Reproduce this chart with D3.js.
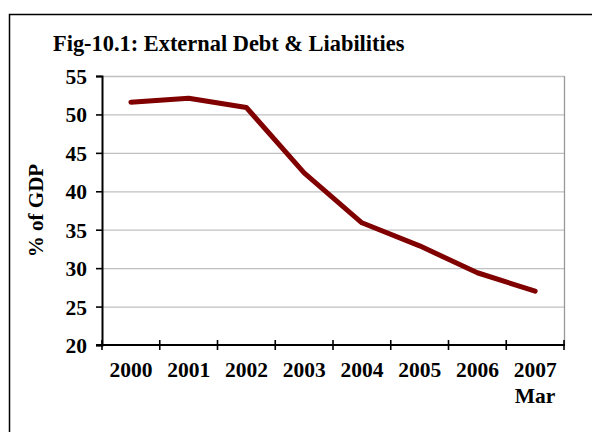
<!DOCTYPE html>
<html>
<head>
<meta charset="utf-8">
<script src="https://cdn.jsdelivr.net/npm/d3@7"></script>
<style>
  body { margin: 0; background: #fff; }
  svg text { font-family: "Liberation Serif", "Times New Roman", serif; font-weight: bold; fill: #000; }
</style>
</head>
<body>
<svg id="chart" width="592" height="432"></svg>
<script>
// data
var years = ['2000', '2001', '2002', '2003', '2004', '2005', '2006', '2007'];
var debtPct = [51.6, 52.1, 50.9, 42.4, 35.9, 32.9, 29.4, 27.0];
var yTicks = [20, 25, 30, 35, 40, 45, 50, 55];

var svg = d3.select('#chart');
var pLeft = 102, pRight = 564, pTop = 76, pBottom = 345;

// outer frame (runs off the page on the right and bottom)
svg.append('path')
  .attr('d', 'M9.5,440 L9.5,14.5 L600,14.5')
  .attr('fill', 'none')
  .attr('stroke', '#000')
  .attr('stroke-width', 1.5);

svg.append('text')
  .attr('x', 53).attr('y', 51)
  .style('font-size', '22.4px')
  .text('Fig-10.1: External Debt & Liabilities');

var x = d3.scaleBand().domain(years).range([pLeft, pRight]);
var y = d3.scaleLinear().domain([20, 55]).range([pBottom, pTop]);

// grid
svg.append('g')
  .selectAll('line')
  .data(yTicks.slice(1))
  .join('line')
    .attr('x1', pLeft).attr('x2', pRight)
    .attr('y1', d => y(d) + 0.5).attr('y2', d => y(d) + 0.5)
    .attr('stroke', '#c0c0c0')
    .attr('stroke-width', 1.3);

// right border of plot area
svg.append('line')
  .attr('x1', pRight + 0.5).attr('x2', pRight + 0.5)
  .attr('y1', pTop).attr('y2', pBottom)
  .attr('stroke', '#999').attr('stroke-width', 1.3);

// y axis
var yAxis = svg.append('g')
  .attr('transform', 'translate(' + pLeft + ',0)')
  .call(d3.axisLeft(y).tickValues(yTicks).tickSize(6).tickPadding(9));
yAxis.select('.domain').attr('stroke', '#000').attr('stroke-width', 2);
yAxis.selectAll('.tick line').attr('stroke', '#000').attr('stroke-width', 1.6);
yAxis.selectAll('text')
  .style('font-size', '21.5px')
  .attr('font-family', null)
  .attr('dy', '0.35em');

// x axis: ticks between categories, crossing the axis
var xAxis = svg.append('g')
  .attr('transform', 'translate(0,' + pBottom + ')');
xAxis.append('line')
  .attr('x1', pLeft - 6).attr('x2', pRight + 1)
  .attr('stroke', '#000').attr('stroke-width', 2);
var bounds = years.map(d => x(d)).concat([pRight]);
xAxis.selectAll('line.tk')
  .data(bounds)
  .join('line')
    .attr('class', 'tk')
    .attr('x1', d => d).attr('x2', d => d)
    .attr('y1', -5).attr('y2', 5)
    .attr('stroke', '#000').attr('stroke-width', 1.6);
xAxis.selectAll('text.yr')
  .data(years)
  .join('text')
    .attr('class', 'yr')
    .attr('x', d => x(d) + x.bandwidth() / 2)
    .attr('y', 32)
    .attr('text-anchor', 'middle')
    .style('font-size', '21.5px')
    .text(d => d);
xAxis.append('text')
  .attr('x', x('2007') + x.bandwidth() / 2)
  .attr('y', 58)
  .attr('text-anchor', 'middle')
  .style('font-size', '21.5px')
  .text('Mar');

// y label
svg.append('text')
  .attr('transform', 'translate(43,' + ((pTop + pBottom) / 2) + ') rotate(-90)')
  .attr('text-anchor', 'middle')
  .style('font-size', '21px')
  .text('% of GDP');

// line
var line = d3.line()
  .x((d, i) => x(years[i]) + x.bandwidth() / 2)
  .y(d => y(d));
svg.append('path')
  .datum(debtPct)
  .attr('d', line)
  .attr('fill', 'none')
  .attr('stroke', '#800000')
  .attr('stroke-width', 5)
  .attr('stroke-linejoin', 'round')
  .attr('stroke-linecap', 'round');
</script>
</body>
</html>
